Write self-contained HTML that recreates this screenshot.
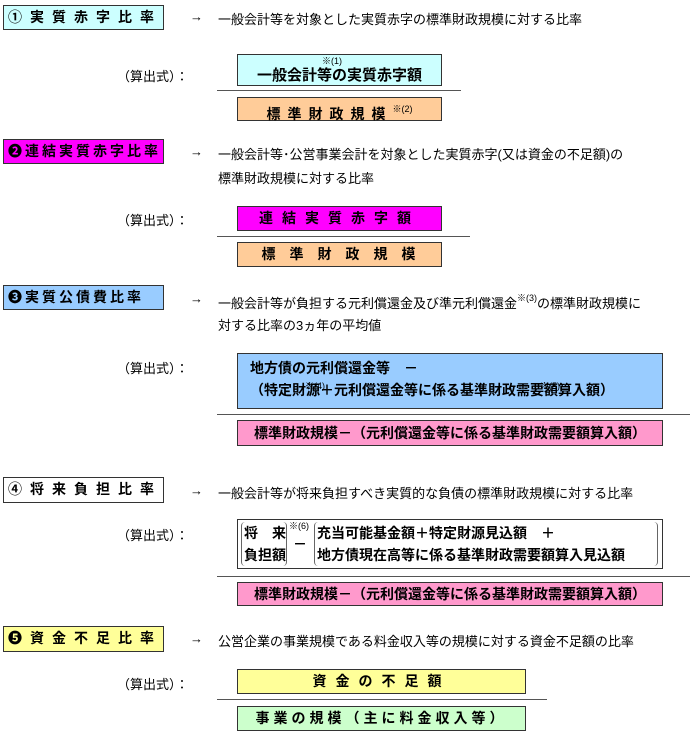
<!DOCTYPE html>
<html><head><meta charset="utf-8"><style>
body{margin:0;width:690px;height:737px;background:#fff;position:relative;overflow:hidden;font-family:"Liberation Sans","Noto Sans CJK JP",sans-serif;color:#000}
div{position:absolute;box-sizing:border-box}
.lab{left:3px;width:161px;border:1px solid #333;font-weight:bold;font-size:14px;letter-spacing:8px;padding-left:4px;line-height:23px;white-space:nowrap;overflow:hidden}
.ar{left:190px;font-size:13px}
.t{left:218px;font-size:13px;white-space:nowrap}
.s{left:117px;font-size:13px}
.b{border:1px solid #333;font-weight:bold;font-size:14px;text-align:center;white-space:nowrap}
.ln{height:1px;background:#555}
sup{font-size:9px;font-weight:normal;vertical-align:7px;letter-spacing:0}
</style></head><body>

<div class="lab" style="top:5px;height:25px;background:#ccffff">①実質赤字比率</div>
<div class="ar" style="top:9px">→</div>
<div class="t" style="top:9px">一般会計等を対象とした実質赤字の標準財政規模に対する比率</div>
<div class="s" style="top:66px">（算出式）：</div>
<div class="b" style="left:237px;top:54px;width:205px;height:32px;background:#ccffff;padding-top:9px;font-size:15px">一般会計等の実質赤字額<span style="position:absolute;left:84px;top:-1px;font-size:9px;font-weight:normal">※(1)</span></div>
<div class="ln" style="left:217px;top:90px;width:244px"></div>
<div class="b" style="left:237px;top:97px;width:205px;height:24px;background:#ffcc99;line-height:22px;letter-spacing:7px">標準財政規模<sup>※(2)</sup></div>

<div class="lab" style="top:139px;height:25px;background:#ff00ff;letter-spacing:3px">❷連結実質赤字比率</div>
<div class="ar" style="top:144px">→</div>
<div class="t" style="top:144px">一般会計等･公営事業会計を対象とした実質赤字(又は資金の不足額)の</div>
<div class="t" style="top:168px">標準財政規模に対する比率</div>
<div class="s" style="top:210px">（算出式）：</div>
<div class="b" style="left:237px;top:206px;width:205px;height:25px;background:#ff00ff;line-height:23px;letter-spacing:9px">連結実質赤字額</div>
<div class="ln" style="left:217px;top:236px;width:253px"></div>
<div class="b" style="left:237px;top:242px;width:205px;height:25px;background:#ffcc99;line-height:23px;letter-spacing:14px;padding-left:12px">標準財政規模</div>

<div class="lab" style="top:285px;height:25px;background:#99ccff;letter-spacing:3px">❸実質公債費比率</div>
<div class="ar" style="top:291px">→</div>
<div class="t" style="top:291px">一般会計等が負担する元利償還金及び準元利償還金<sup>※(3)</sup>の標準財政規模に</div>
<div class="t" style="top:315px">対する比率の3ヵ年の平均値</div>
<div class="s" style="top:358px">（算出式）：</div>
<div class="b" style="left:237px;top:353px;width:426px;height:56px;background:#99ccff;text-align:left;padding-left:12px;line-height:22px;padding-top:3px">地方債の元利償還金等　－<br>（特定財源＋元利償還金等に係る基準財政需要額算入額）<span style="position:absolute;left:67px;top:21px;font-size:9px;font-weight:normal">※(4)</span><span style="position:absolute;left:302px;top:21px;font-size:9px;font-weight:normal">※(5)</span></div>
<div class="ln" style="left:217px;top:414px;width:473px"></div>
<div class="b" style="left:237px;top:420px;width:426px;height:26px;background:#ff99cc;line-height:24px">標準財政規模－（元利償還金等に係る基準財政需要額算入額）</div>

<div class="lab" style="top:477px;height:26px;background:#fff">④将来負担比率</div>
<div class="ar" style="top:483px">→</div>
<div class="t" style="top:483px">一般会計等が将来負担すべき実質的な負債の標準財政規模に対する比率</div>
<div class="s" style="top:525px">（算出式）：</div>
<div class="b" style="left:237px;top:519px;width:426px;height:50px;background:#fff;text-align:left;line-height:22px">
 <div style="left:3px;top:2px;width:46px;height:44px;border-left:1px solid #666;border-right:1px solid #666;border-radius:4px;padding-left:2px">将　来<br>負担額</div>
 <div style="left:51px;top:1px;font-size:9px;font-weight:normal;line-height:10px">※(6)</div>
 <div style="left:55px;top:13px">－</div>
 <div style="left:76px;top:2px;width:344px;height:44px;border-left:1px solid #666;border-right:1px solid #666;border-radius:4px;padding-left:2px">充当可能基金額＋特定財源見込額　＋<br>地方債現在高等に係る基準財政需要額算入見込額</div>
</div>
<div class="ln" style="left:217px;top:576px;width:473px"></div>
<div class="b" style="left:237px;top:582px;width:426px;height:24px;background:#ff99cc;line-height:22px">標準財政規模－（元利償還金等に係る基準財政需要額算入額）</div>

<div class="lab" style="top:626px;height:26px;background:#ffff99">❺資金不足比率</div>
<div class="ar" style="top:631px">→</div>
<div class="t" style="top:631px">公営企業の事業規模である料金収入等の規模に対する資金不足額の比率</div>
<div class="s" style="top:674px">（算出式）：</div>
<div class="b" style="left:237px;top:669px;width:289px;height:25px;background:#ffff99;line-height:23px;letter-spacing:9px">資金の不足額</div>
<div class="ln" style="left:217px;top:699px;width:330px"></div>
<div class="b" style="left:237px;top:706px;width:289px;height:25px;background:#ccffcc;line-height:23px;letter-spacing:4px">事業の規模（主に料金収入等）</div>
</body></html>
